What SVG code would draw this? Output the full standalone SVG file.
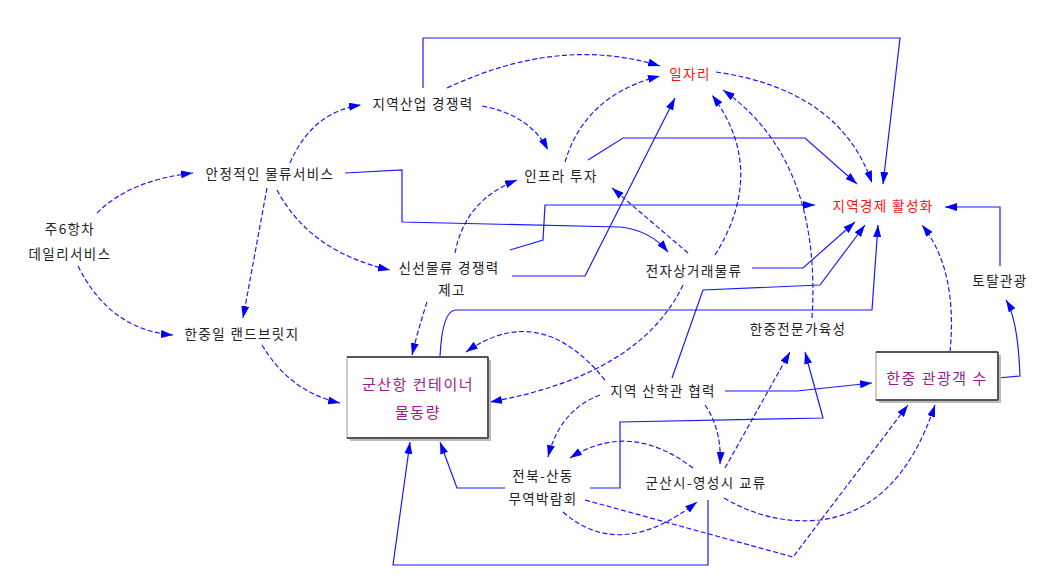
<svg xmlns="http://www.w3.org/2000/svg" width="1040" height="577" viewBox="0 0 1040 577">
<defs>
<marker id="ah" viewBox="0 0 12 8" refX="12" refY="4" markerWidth="12" markerHeight="8" markerUnits="userSpaceOnUse" orient="auto"><path d="M0,0 L12,4 L0,8 z" fill="#0000ff"/></marker>
</defs>
<style>
text{font-family:"Noto Sans CJK KR","Noto Sans",sans-serif;font-size:13.5px;letter-spacing:1.4px;fill:#222;text-anchor:middle;dominant-baseline:central}
.red{fill:#ff1010}
.pur{fill:#9a1c8c;font-size:15px;letter-spacing:1.5px}
.c{fill:none;stroke:#1a1aff;stroke-width:1.2;marker-end:url(#ah)}
.d{stroke-dasharray:5 2.5}
.box{fill:#fff;stroke:#999;stroke-width:1}
.edge{stroke:#555;stroke-width:2}
.sh{fill:#bbb}
</style>
<rect width="1040" height="577" fill="#fff"/>
<g id="connectors">
<path class="c d" d="M97,213 Q130,180 193,173"/>
<path class="c d" d="M78,266 Q110,330 173,335"/>
<path class="c d" d="M290,163 Q312,112 361,105"/>
<path class="c d" d="M267,188 L243,318"/>
<path class="c d" d="M277,190 Q310,252 390,270"/>
<path class="c" d="M345,173 L402,170 L402,222 L620,227 Q650,230 668,252"/>
<path class="c d" d="M447,88 Q560,35 660,66"/>
<path class="c d" d="M482,106 Q530,115 548,150"/>
<path class="c" d="M423,88 L423,38 L900,38 L883,184"/>
<path class="c d" d="M565,162 Q585,95 660,76"/>
<path class="c" d="M588,160 L623,138 L805,138 L857,184"/>
<path class="c d" d="M455,253 Q465,200 517,180"/>
<path class="c" d="M510,250 L543,240 L545,205 L815,205"/>
<path class="c" d="M512,276 L585,276 L675,98"/>
<path class="c d" d="M688,253 L612,188"/>
<path class="c d" d="M715,255 Q768,170 712,95"/>
<path class="c" d="M752,268 L803,268 L855,222"/>
<path class="c d" d="M683,285 Q640,375 490,402"/>
<path class="c d" d="M716,72 Q840,90 872,183"/>
<path class="c d" d="M812,318 Q822,160 723,90"/>
<path class="c" d="M1000,266 L1000,207 L945,207"/>
<path class="c" d="M998,378 L1020,376 Q1018,320 1006,300"/>
<path class="c d" d="M950,352 Q958,270 922,225"/>
<path class="c" d="M440,357 Q442,312 455,310 L872,310 L878,225"/>
<path class="c d" d="M427,302 Q418,330 412,355"/>
<path class="c d" d="M262,345 Q290,392 340,403"/>
<path class="c d" d="M605,380 Q540,300 466,352"/>
<path class="c" d="M672,378 L703,290 L820,285 L865,225"/>
<path class="c" d="M725,391 L797,391 L872,383"/>
<path class="c d" d="M600,395 Q560,410 548,457"/>
<path class="c d" d="M705,405 Q722,430 720,464"/>
<path class="c d" d="M725,468 L790,352"/>
<path class="c" d="M590,488 L620,488 L620,422 L823,418 L805,352"/>
<path class="c d" d="M693,468 Q630,420 570,458"/>
<path class="c d" d="M563,512 Q620,562 697,502"/>
<path class="c d" d="M585,500 L793,557 L908,405"/>
<path class="c d" d="M724,498 Q770,525 820,520 Q900,510 935,405"/>
<path class="c" d="M708,500 L708,565 L393,565 L410,442"/>
<path class="c" d="M505,488 L457,488 L440,442"/>
</g>
<g id="n_daily"><text x="70" y="228">주6항차</text><text x="70" y="253">데일리서비스</text></g>
<g id="n_stable"><text x="270" y="173">안정적인 물류서비스</text></g>
<g id="n_landbridge"><text x="242" y="333">한중일 랜드브릿지</text></g>
<g id="n_industry"><text x="423" y="103">지역산업 경쟁력</text></g>
<g id="n_infra"><text x="561" y="175">인프라 투자</text></g>
<g id="n_fresh"><text x="449" y="267">신선물류 경쟁력</text><text x="452" y="289">제고</text></g>
<g id="n_ecommerce"><text x="694" y="270">전자상거래물류</text></g>
<g id="n_jobs"><text class="red" x="690" y="73">일자리</text></g>
<g id="n_economy"><text class="red" x="883" y="205">지역경제 활성화</text></g>
<g id="n_tour"><text x="1000" y="280">토탈관광</text></g>
<g id="n_expert"><text x="798" y="328">한중전문가육성</text></g>
<g id="n_tourists"><rect class="sh" x="879" y="355" width="122" height="48"/><rect class="box" x="876" y="352" width="122" height="48"/><line class="edge" x1="876" y1="352" x2="998" y2="352"/><line class="edge" x1="876" y1="400" x2="998" y2="400"/><line class="edge" x1="998" y1="352" x2="998" y2="400"/><text class="pur" x="937" y="377">한중 관광객 수</text></g>
<g id="n_port"><rect class="sh" x="350" y="360" width="141" height="81"/><rect class="box" x="347" y="357" width="141" height="81"/><line class="edge" x1="347" y1="357" x2="488" y2="357"/><line class="edge" x1="347" y1="438" x2="488" y2="438"/><line class="edge" x1="488" y1="357" x2="488" y2="438"/><text class="pur" x="418" y="383">군산항 컨테이너</text><text class="pur" x="418" y="411">물동량</text></g>
<g id="n_coop"><text x="663" y="390">지역 산학관 협력</text></g>
<g id="n_expo"><text x="543" y="475">전북-산동</text><text x="543" y="498">무역박람회</text></g>
<g id="n_exchange"><text x="706" y="482">군산시-영성시 교류</text></g>
</svg>
